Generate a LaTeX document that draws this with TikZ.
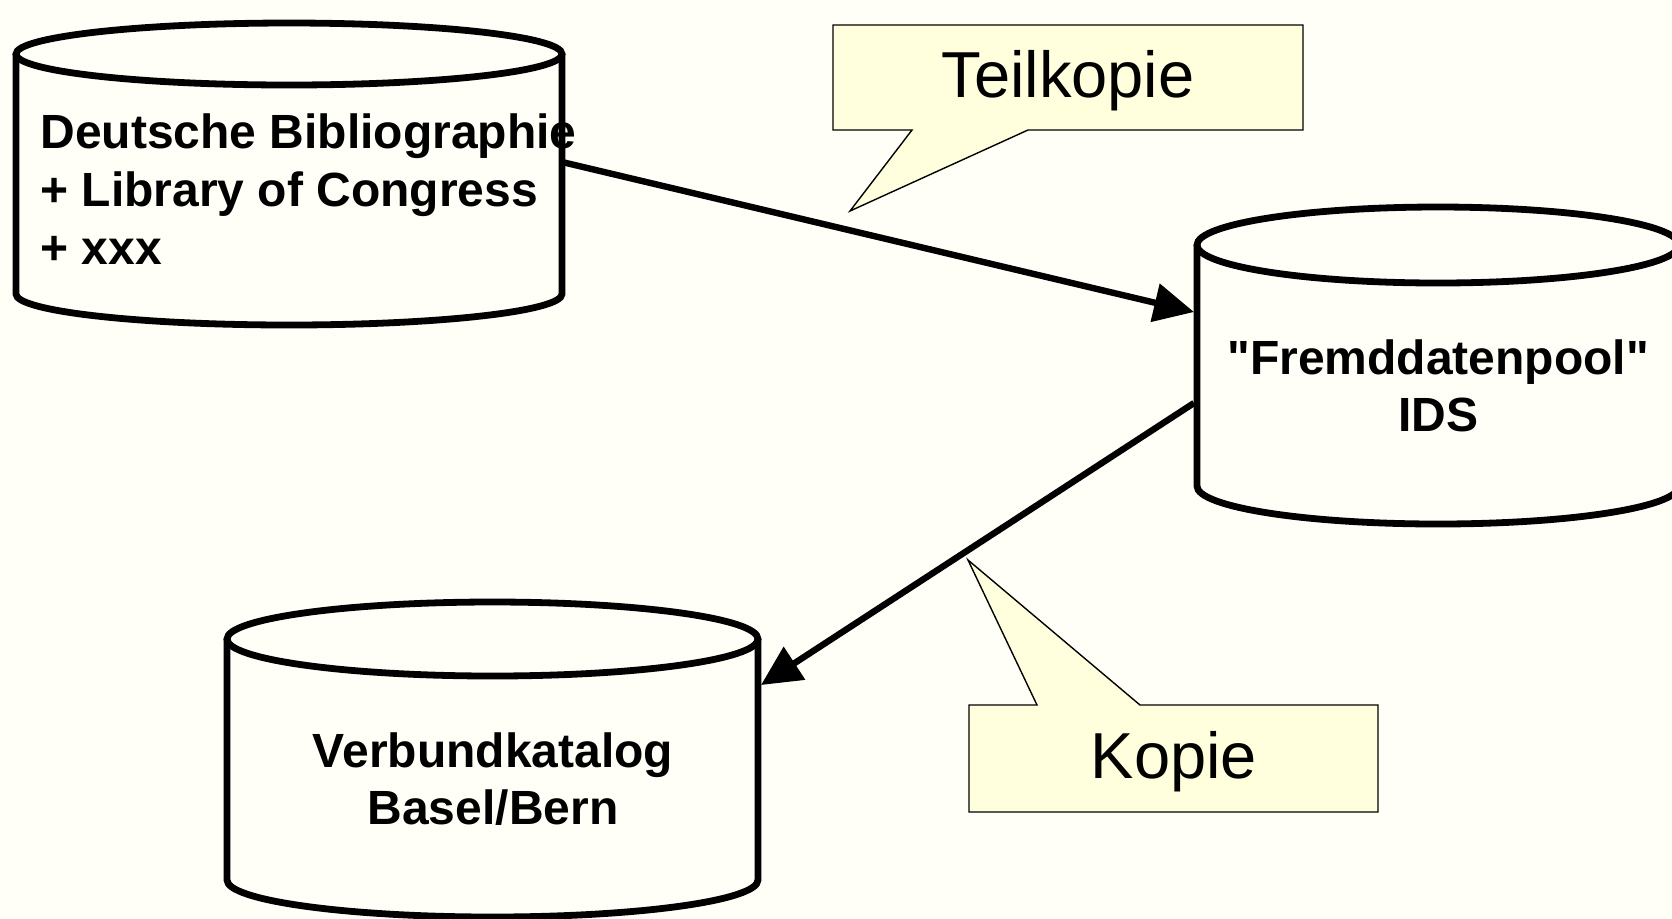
\documentclass[tikz,border=0pt]{standalone}
\usepackage{fontspec}
\setmainfont{Liberation Sans}[Ligatures=TeXOff]
\usetikzlibrary{arrows.meta}
\definecolor{bgcream}{RGB}{255,255,247}
\definecolor{notefill}{RGB}{255,255,221}
\tikzset{
  dbline/.style={line width=3.4pt},
  dbtext/.style={font=\fontsize{24}{28.8}\selectfont\bfseries, inner sep=0pt},
  notebox/.style={draw=black, fill=notefill, line width=0.7pt, line join=miter},
  notetext/.style={font=\fontsize{32.5}{38}\selectfont, inner sep=0pt},
  copyarrow/.style={line width=3.2pt, -{Triangle[length=20pt,width=19pt]}}
}
\begin{document}
\begin{tikzpicture}[x=0.5pt,y=-0.5pt]
\fill[bgcream] (0,0) rectangle (1672,918);
\useasboundingbox (0,0) rectangle (1672,918);

% callouts
\draw[notebox] (833,25) -- (1303,25) -- (1303,130) -- (1028,130) -- (850,211) -- (912,130) -- (833,130) -- cycle;
\node[notetext] (teilLabel) at (1068,81) {Teilkopie};
\draw[notebox] (969,705) -- (1037,705) -- (968,560) -- (1140,705) -- (1378,705) -- (1378,812) -- (969,812) -- cycle;
\node[notetext] (kopieLabel) at (1174,762) {Kopie};

% Datenbanken
\draw[dbline] (16,54) -- (16,294) arc[start angle=180,end angle=0,x radius=273,y radius=31] -- (562,54);
\draw[dbline] (289,54) ellipse[x radius=273,y radius=31];
\node[dbtext, anchor=west, align=left] (dnbText) at (40,189) {Deutsche Bibliographie\\+ Library of Congress\\+ xxx};

\draw[dbline] (1197,245) -- (1197,486) arc[start angle=180,end angle=0,x radius=241,y radius=38] -- (1679,245);
\draw[dbline] (1438,245) ellipse[x radius=241,y radius=38];
\node[dbtext, align=center] (idsText) at (1438,386) {"Fremddatenpool"\\IDS};

\draw[dbline] (227,639) -- (227,880) arc[start angle=180,end angle=0,x radius=265.5,y radius=37] -- (758,639);
\draw[dbline] (492.5,639) ellipse[x radius=265.5,y radius=37];
\node[dbtext, align=center] (vkText) at (493,779) {Verbundkatalog\\Basel/Bern};

% Verbindungen
\coordinate (dnbOut) at (562,162);
\coordinate (idsIn) at (1194,312);
\coordinate (idsOut) at (1194,403);
\coordinate (vkIn) at (761,685);
\draw[copyarrow] (dnbOut) -- (idsIn);
\draw[copyarrow] (idsOut) -- (vkIn);
\end{tikzpicture}
\end{document}
